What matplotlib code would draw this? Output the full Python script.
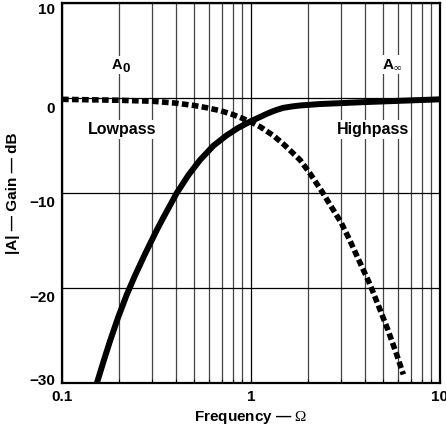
import matplotlib
matplotlib.use("Agg")
import matplotlib.pyplot as plt
from matplotlib.ticker import LogLocator, NullFormatter

# --- DONNEES ---
hp_freq = [0.153, 0.166, 0.180, 0.198, 0.220, 0.243, 0.275, 0.317, 0.343, 0.404, 0.466,
           0.537, 0.632, 0.743, 0.857, 1.0, 1.12, 1.22, 1.35, 1.48, 1.65, 1.82, 2.3,
           3.9, 10.0]
hp_gain = [-30.0, -27.7, -25.5, -23.1, -20.7, -18.7, -16.4, -13.9, -12.6, -10.0, -8.1,
           -6.5, -5.0, -3.9, -3.1, -2.4, -1.95, -1.6, -1.25, -1.0, -0.85, -0.75, -0.6,
           -0.4, -0.1]

lp_freq = [0.1, 0.2, 0.3, 0.4, 0.5, 0.57, 0.69, 0.8, 0.9, 1.0, 1.12, 1.22, 1.31, 1.5,
           1.82, 2.05, 2.37, 2.6, 3.0, 3.34, 3.77, 4.26, 4.8, 5.3, 5.9, 6.4]
lp_gain = [-0.1, -0.2, -0.3, -0.5, -0.75, -0.95, -1.3, -1.7, -2.1, -2.5, -3.0, -3.5,
           -3.9, -4.9, -6.5, -7.9, -9.8, -11.1, -13.1, -15.0, -17.3, -19.6, -22.2,
           -24.4, -27.0, -29.1]

x_ticks = [0.1, 1, 10]
x_labels = ["0.1", "1", "10"]
y_ticks = [10, 0, -10, -20, -30]
y_labels = ["10", "0", "\u221210", "\u221220", "\u221230"]
y_label_shift = [5.0, 7.5, 7.2, 6.8, -1.1]  # decalage vertical (pt) des etiquettes

plt.rcParams["font.family"] = ["Liberation Sans", "DejaVu Sans"]
plt.rcParams["mathtext.fontset"] = "custom"
plt.rcParams["mathtext.rm"] = "Liberation Serif"
plt.rcParams["mathtext.bf"] = "Liberation Sans:bold"

fig = plt.figure(figsize=(4.46, 4.28), dpi=100)
ax = fig.add_axes([62 / 446, 1 - 383 / 428, 378 / 446, 379.5 / 428])

ax.set_xscale("log")
ax.set_xlim(0.1, 10)
ax.set_ylim(-30, 10)

# grille
ax.xaxis.set_minor_locator(LogLocator(base=10, subs=range(2, 10)))
ax.xaxis.set_minor_formatter(NullFormatter())
ax.set_xticks(x_ticks)
ax.set_xticklabels(x_labels, fontweight="bold", fontsize=11)
ax.set_yticks(y_ticks)
ax.set_yticklabels([])
ax.grid(True, which="minor", axis="x", color="#444444", lw=0.9)
ax.grid(True, which="major", axis="x", color="black", lw=0.9)
ax.grid(True, which="major", axis="y", color="black", lw=0.9)
ax.tick_params(which="both", direction="in", length=3, width=0.8, pad=5)
ax.tick_params(axis="y", length=0)
for s in ax.spines.values():
    s.set_linewidth(1.6)

# etiquettes Y placees a la main (comme sur l'original)
for val, lab, dy in zip(y_ticks, y_labels, y_label_shift):
    ax.annotate(lab, xy=(0, val), xycoords=("axes fraction", "data"),
                xytext=(-5, -dy), textcoords="offset points",
                ha="right", va="center", fontsize=11, fontweight="bold")

# courbes
ax.plot(hp_freq, hp_gain, color="black", lw=4.3, solid_capstyle="butt",
        solid_joinstyle="round")
ax.plot(lp_freq, lp_gain, color="black", lw=4.0, linestyle=(0, (1.2, 0.6)),
        dash_capstyle="butt")

box = dict(facecolor="white", edgecolor="none", pad=1.5)
ax.text(0.195, 3.5, "A", fontsize=10.5, fontweight="bold",
        ha="center", va="center", bbox=box)
ax.annotate("0", xy=(0.195, 3.5), xytext=(6.5, -2.5), textcoords="offset points",
            fontsize=9.5, fontweight="bold", ha="center", va="center")
ax.text(0.207, -3.3, "Lowpass", fontsize=11.5, fontweight="bold",
        ha="center", va="center", bbox=box)
ax.text(4.42, -3.3, "Highpass", fontsize=11.5, fontweight="bold",
        ha="center", va="center", bbox=box)
ax.text(5.57, 3.6, r"A$_{\infty}$", fontsize=11, fontweight="bold",
        ha="center", va="center", bbox=box)

ax.set_xlabel("Frequency \u2014 " + r"$\mathrm{\Omega}$",
              fontsize=11, fontweight="bold", labelpad=4)
ax.set_ylabel("|A| \u2014 Gain \u2014 dB", fontsize=11, fontweight="bold", labelpad=25)

fig.savefig("out.png", dpi=100)
